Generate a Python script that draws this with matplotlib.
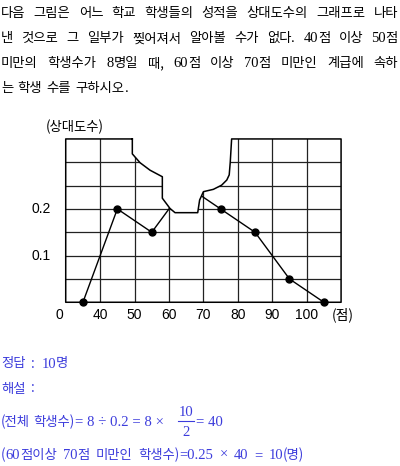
import re
import matplotlib
matplotlib.use('Agg')
import matplotlib.pyplot as plt
from matplotlib.path import Path

plt.rcParams['font.family'] = ['Noto Sans CJK KR', 'DejaVu Sans']

# relative frequency polygon (the point at 65 is hidden by the torn part)
scores = [35, 45, 55, 65, 75, 85, 95, 105]
rel_freq = [0, 0.2, 0.15, 0.25, 0.2, 0.15, 0.05, 0]
x_ticks = [40, 50, 60, 70, 80, 90, 100]
x_labels = ['40', '50', '60', '70', '80', '90', '100']
y_ticks = [0.1, 0.2]
y_labels = ['0.1', '0.2']
grid_levels = [0.05, 0.10, 0.15, 0.20, 0.25, 0.30]

question = [
    '다음 그림은 어느 학교 학생들의 성적을 상대도수의 그래프로 나타',
    '낸 것으로 그 일부가 찢어져서 알아볼 수가 없다. 40점 이상 50점',
    '미만의 학생수가 8명일 때, 60점 이상 70점 미만인 계급에 속하',
    '는 학생 수를 구하시오.',
]

# torn edge of the graph paper, left to right
tear = [(49.35, 0.35), (49.35, 0.318), (51.6, 0.299), (54.5, 0.283), (58.07, 0.269),
        (58.07, 0.223), (60.3, 0.201), (61.76, 0.192), (68.35, 0.192), (68.9, 0.219),
        (70.0, 0.237), (72.9, 0.242), (75.3, 0.251), (76.8, 0.262), (77.5, 0.273),
        (77.8, 0.30), (78.2, 0.35)]

W, H = 400, 466
SERIF = ['Liberation Serif', 'DejaVu Serif']
HANGUL = ['Noto Sans CJK KR', 'DejaVu Sans']
BLUE = '#3c3cdc'

fig = plt.figure(figsize=(4, 4.66), dpi=100)
renderer = fig.canvas.get_renderer()


def make_word(word, color, size):
    items = []
    for run in re.findall(r'[0-9.=×÷]+|[^0-9.=×÷]+', word):
        if run[0] in '0123456789.=×÷':
            t = fig.text(0, 0, run, family=SERIF, fontsize=size * 1.1, color=color,
                         ha='left', va='baseline')
        else:
            t = fig.text(0, 0, run, family=HANGUL, fontsize=size, color=color,
                         ha='left', va='baseline')
        items.append([t, t.get_window_extent(renderer).width])
    return items


def put_line(text, y, color='black', size=9.6, right=None, gap=4, x0=1):
    words = [make_word(w, color, size) for w in text.split(' ')]
    widths = [sum(w for _, w in wd) for wd in words]
    if right is not None:
        gap = (right - x0 - sum(widths)) / (len(words) - 1)
    x = x0
    for wd, ww in zip(words, widths):
        for t, w in wd:
            t.set_position((x / W, 1 - y / H))
            x += w
        x += gap


# question text
for i, line in enumerate(question):
    put_line(line, 17.5 + 24.9 * i, right=398 if i < 3 else None, gap=4.5)

# chart
ax = fig.add_axes([31.3 / W, 0.3013, 344.2 / W, 0.4506])
ax.set_xlim(20, 120)
ax.set_ylim(-0.05, 0.40)
ax.axis('off')

outline = tear + [(110, 0.35), (110, 0), (30, 0), (30, 0.35), tear[0]]
paper = Path(outline, closed=True)
for x in x_ticks:
    ln, = ax.plot([x, x], [0, 0.35], color='#222222', lw=0.9)
    ln.set_clip_path(paper, ax.transData)
for y in grid_levels:
    ln, = ax.plot([30, 110], [y, y], color='#222222', lw=0.9)
    ln.set_clip_path(paper, ax.transData)
ax.plot([p[0] for p in outline], [p[1] for p in outline], color='black', lw=1.1)

visible = Path(tear + [(115, 0.35), (115, -0.05), (25, -0.05), (25, 0.35), tear[0]], closed=True)
ln, = ax.plot(scores, rel_freq, color='black', lw=1.0, marker='o', ms=5)
ln.set_clip_path(visible, ax.transData)

for x, lab in zip(x_ticks, x_labels):
    ax.text(x, -0.027, lab, ha='center', va='center', fontsize=10,
            family=['Liberation Sans', 'DejaVu Sans'])
ax.text(28.1, -0.027, '0', ha='center', va='center', fontsize=10,
        family=['Liberation Sans', 'DejaVu Sans'])
ax.text(110.6, -0.027, '(점)', ha='center', va='center', fontsize=10)
for y, lab in zip(y_ticks, y_labels):
    ax.text(25.7, y, lab, ha='right', va='center', fontsize=10,
            family=['Liberation Sans', 'DejaVu Sans'])
ax.text(32.7, 0.3756, '(상대도수)', ha='center', va='center', fontsize=9.6)

# answer and explanation
put_line('정답 : 10명', 367.5, color=BLUE, gap=6)
put_line('해설 :', 392.5, color=BLUE, gap=6)
put_line('(전체 학생수)', 426, color=BLUE, gap=3)
fig.text(75 / W, 1 - 426 / H, '= 8 ÷ 0.2 = 8 ×', family=SERIF, fontsize=10.6,
         color=BLUE, ha='left', va='baseline')
fig.text(186 / W, 1 - 416.5 / H, '10', family=SERIF, fontsize=10.6, color=BLUE,
         ha='center', va='baseline')
fig.text(186 / W, 1 - 436 / H, '2', family=SERIF, fontsize=10.6, color=BLUE,
         ha='center', va='baseline')
fig.add_artist(plt.Line2D([178 / W, 194 / W], [1 - 421 / H, 1 - 421 / H],
                          color=BLUE, lw=0.8))
fig.text(196 / W, 1 - 426 / H, '= 40', family=SERIF, fontsize=10.6, color=BLUE,
         ha='left', va='baseline')
put_line('(60점이상 70점 미만인 학생수)=0.25 × 40 = 10(명)', 459, color=BLUE, gap=6)

fig.savefig('out.png', dpi=100)
